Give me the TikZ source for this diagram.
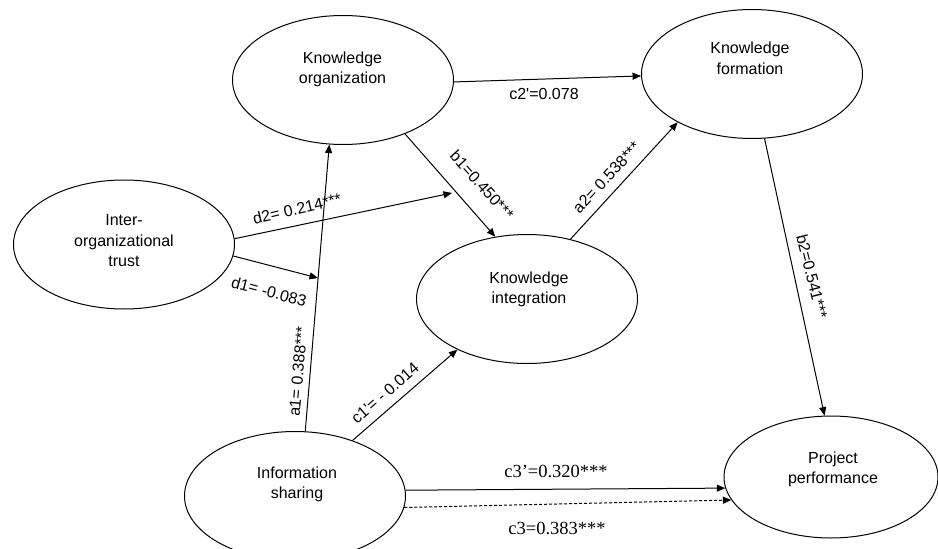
\documentclass[tikz,border=0pt]{standalone}
\usepackage{fontspec}
\setmainfont{Liberation Sans}
\newfontfamily\serifface{Liberation Serif}
\usetikzlibrary{shapes.geometric,arrows.meta}
\begin{document}
\begin{tikzpicture}[x=1pt,y=-1pt,
  ell/.style={draw,ellipse,line width=1pt,minimum width=221pt,minimum height=129pt,inner sep=0pt},
  ntext/.style={align=center,font=\fontsize{16}{20.5}\selectfont,inner sep=0pt},
  lab/.style={font=\fontsize{16}{18}\selectfont,inner sep=0pt},
  slab/.style={font=\serifface\fontsize{18.5}{20}\selectfont,inner sep=0pt,anchor=base},
  conn/.style={line width=1pt,-{Triangle[length=8.5pt,width=7pt]}},
]
\useasboundingbox (0,0) rectangle (938,549);
\clip (0,0) rectangle (938,549);
% ellipses
\node[ell] (ko) at (343,80) {};
\node[ell] (kf) at (752,74) {};
\node[ell] (tr) at (124,244.5) {};
\node[ell] (ki) at (527,299) {};
\node[ell] (is) at (295,496) {};
\node[ell,minimum width=214pt,minimum height=122pt] (pp) at (831,477) {};
% texts
\node[ntext] (kot) at (342.5,69.5) {Knowledge\\organization};
\node[ntext] (kft) at (750,58.5) {Knowledge\\formation};
\node[ntext] (trt) at (124,241) {Inter-\\organizational\\trust};
\node[ntext] (kit) at (529,289.5) {Knowledge\\integration};
\node[ntext] (ist) at (297,484.5) {Information\\sharing};
\node[ntext] (ppt) at (833,469.5) {Project\\performance};
% free ends
\coordinate (d2end) at (452,193);
\coordinate (d1end) at (318,278);
% connectors
\draw[conn] (is.81.5) -- (ko.258);
\draw[conn] (tr.3.9) -- (d2end);
\draw[conn] (tr.-6) -- (d1end);
\draw[conn] (ko.-41) -- (ki.117);
\draw[conn] (ko.-1) -- (kf.181);
\draw[conn] (ki.54.2) -- (kf.213.5);
\draw[conn] (kf.-79.2) -- (pp.96.7);
\draw[conn] (is.44) -- (ki.216);
\draw[conn] (is.3.5) -- (pp.186.5);
\draw[conn,dash pattern=on 3pt off 2pt] (is.-6.4) -- (pp.193);
% labels
\node[lab] (lc2) at (544,93.5) {c2\textquotesingle=0.078};
\node[lab,rotate=13] (ld2) at (297,208.5) {d2= 0.214***};
\node[lab,rotate=-15] (ld1) at (269,291.5) {d1= -0.083};
\node[lab,rotate=-48] (lb1) at (482,185) {b1=0.450***};
\node[lab,rotate=47] (la2) at (606.5,177.5) {a2= 0.538***};
\node[lab,rotate=-76] (lb2) at (812,276.5) {b2=0.541***};
\node[lab,rotate=85] (la1) at (298,371.5) {a1= 0.388***};
\node[lab,rotate=41] (lc1) at (385,393) {c1\textquotesingle= - 0.014};
\node[slab] (lc3p) at (556,477) {c3’=0.320***};
\node[slab] (lc3) at (557,534) {c3=0.383***};
\end{tikzpicture}
\end{document}
